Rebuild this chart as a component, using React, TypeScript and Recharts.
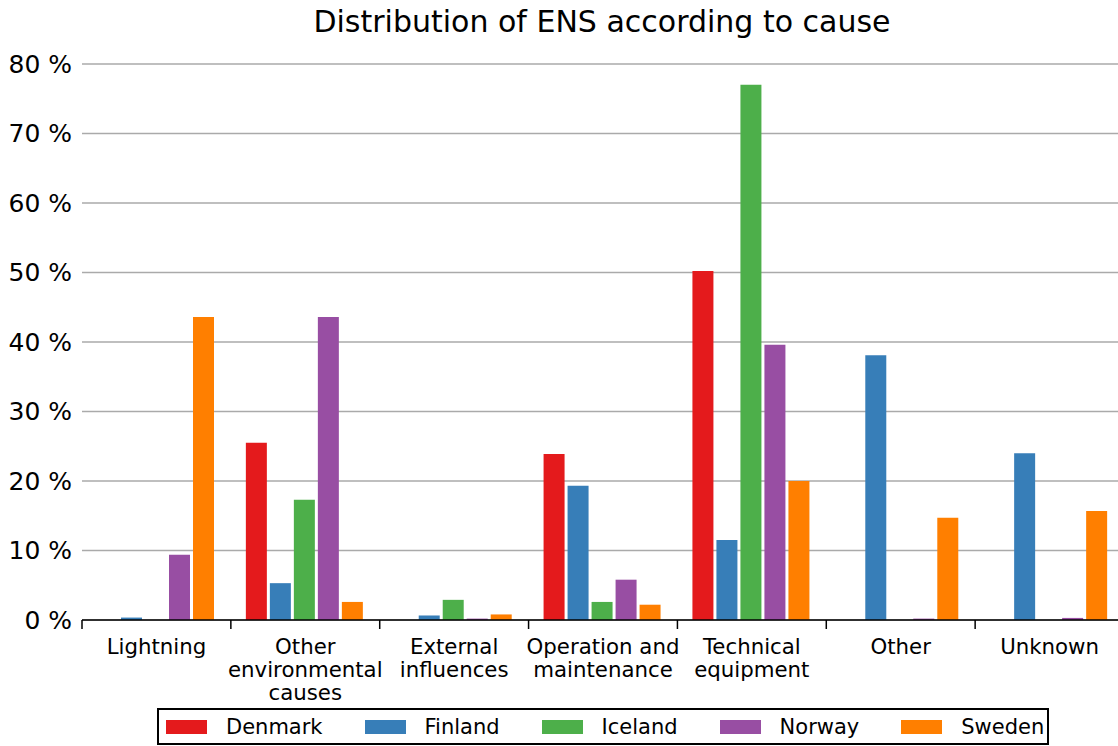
import React from "react";
import { BarChart, Bar, XAxis, YAxis, CartesianGrid, Legend } from "recharts";

const categories = [
  "Lightning",
  "Other\nenvironmental\ncauses",
  "External\ninfluences",
  "Operation and\nmaintenance",
  "Technical\nequipment",
  "Other",
  "Unknown",
];

const denmark = [0, 25.5, 0, 23.9, 50.2, 0, 0];
const finland = [0.35, 5.3, 0.65, 19.3, 11.5, 38.1, 24.0];
const iceland = [0, 17.3, 2.9, 2.6, 77.0, 0, 0];
const norway = [9.4, 43.6, 0.2, 5.8, 39.6, 0.2, 0.3];
const sweden = [43.6, 2.6, 0.8, 2.2, 20.0, 14.7, 15.7];

const yTicks = [0, 10, 20, 30, 40, 50, 60, 70, 80];

const series = [
  { key: "Denmark", color: "#e41a1c" },
  { key: "Finland", color: "#377eb8" },
  { key: "Iceland", color: "#4daf4a" },
  { key: "Norway", color: "#984ea3" },
  { key: "Sweden", color: "#ff7f00" },
];

const data = categories.map((cat, i) => ({
  cat,
  Denmark: denmark[i],
  Finland: finland[i],
  Iceland: iceland[i],
  Norway: norway[i],
  Sweden: sweden[i],
}));

const W = 1118;
const CHART_W = 1124;
const H = 746;
const Y_W = 82;
const BAND = (CHART_W - Y_W) / categories.length;
const FONT = "'DejaVu Sans', sans-serif";

const CategoryTick = (props: any) => {
  const { x, y, payload, index } = props;
  const lines = String(payload.value).split("\n");
  return (
    <g>
      <line x1={x - BAND / 2} x2={x - BAND / 2} y1={y} y2={y + 9} stroke="#000" strokeWidth={1.5} />
      {index === categories.length - 1 && (
        <line x1={x + BAND / 2} x2={x + BAND / 2} y1={y} y2={y + 9} stroke="#000" strokeWidth={1.5} />
      )}
      <text x={x} y={y + 34} textAnchor="middle" fontSize={21.3} fontFamily={FONT} fill="#000">
        {lines.map((l, i) => (
          <tspan key={i} x={x} dy={i === 0 ? 0 : 23}>
            {l}
          </tspan>
        ))}
      </text>
    </g>
  );
};

const LegendBox = () => (
  <div
    style={{
      display: "flex",
      alignItems: "center",
      height: 37,
      boxSizing: "border-box",
      border: "2px solid #000",
      paddingLeft: 7,
      fontFamily: FONT,
      fontSize: 21,
      color: "#000",
      background: "#fff",
    }}
  >
    {series.map((s) => (
      <div key={s.key} style={{ display: "flex", alignItems: "center", marginRight: 42 }}>
        <span style={{ display: "inline-block", width: 41, height: 14, background: s.color, marginRight: 19 }} />
        <span>{s.key}</span>
      </div>
    ))}
  </div>
);

export default function App() {
  return (
    <div
      style={{
        position: "absolute",
        left: 0,
        top: 0,
        width: W,
        height: H,
        background: "#fff",
        overflow: "hidden",
      }}
    >
      <div
        style={{
          position: "absolute",
          left: 0,
          width: 1204,
          top: 2,
          textAlign: "center",
          fontFamily: FONT,
          fontSize: 30,
          color: "#000",
          lineHeight: "40px",
        }}
      >
        Distribution of ENS according to cause
      </div>
      <BarChart
        width={CHART_W}
        height={H}
        data={data}
        margin={{ top: 64, right: 0, left: 0, bottom: 0 }}
        barCategoryGap={15}
        barGap={3}
      >
        <CartesianGrid vertical={false} stroke="#aaa" strokeWidth={1.3} />
        <XAxis
          dataKey="cat"
          height={126}
          interval={0}
          tickSize={0}
          tickMargin={0}
          tickLine={false}
          axisLine={{ stroke: "#000", strokeWidth: 1.5 }}
          tick={<CategoryTick />}
        />
        <YAxis
          width={Y_W}
          domain={[0, 80]}
          ticks={yTicks}
          tickFormatter={(v) => `${v} %`}
          axisLine={false}
          tickLine={false}
          tickSize={0}
          tickMargin={10}
          tick={{ fontSize: 25, fontFamily: FONT, fill: "#000" }}
        />
        <Legend
          layout="horizontal"
          verticalAlign="middle"
          align="center"
          content={<LegendBox />}
          wrapperStyle={{ position: "absolute", left: 157, top: 708, width: 892, height: 37 }}
        />
        {series.map((s) => (
          <Bar key={s.key} dataKey={s.key} fill={s.color} isAnimationActive={false} />
        ))}
      </BarChart>
    </div>
  );
}
